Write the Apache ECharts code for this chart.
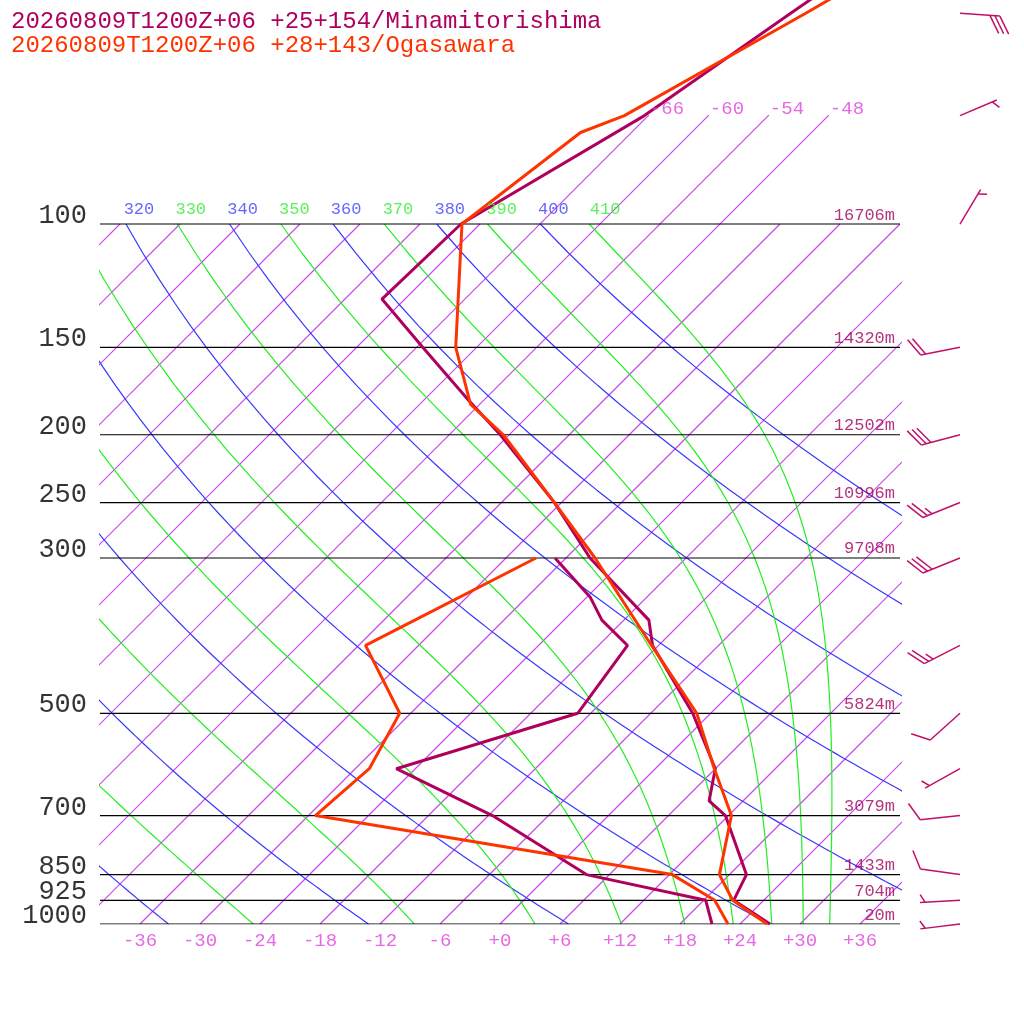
<!DOCTYPE html>
<html><head><meta charset="utf-8">
<script src="https://cdn.jsdelivr.net/npm/echarts@6/dist/echarts.min.js"></script>
<style>html,body{margin:0;padding:0;background:#fff}#c{width:1024px;height:1024px}</style>
</head><body><div id="c"></div>
<script>
// ---- data ----
const titleA = '20260809T1200Z+06 +25+154/Minamitorishima';
const titleB = '20260809T1200Z+06 +28+143/Ogasawara';
const isobarP = [100,150,200,250,300,500,700,850,925,1000];
const heights = ['16706m','14320m','12502m','10996m','9708m','5824m','3079m','1433m','704m','20m'];
const tempTicks = [-36,-30,-24,-18,-12,-6,0,6,12,18,24,30,36];
const topIsotherms = [-66,-60,-54,-48];
const dryThetas = [240,260,280,300,320,340,360,380,400];
const moistThetas = [250,270,290,310,330,350,370,390,410];
// Minamitorishima
const mtP  = [1000,925,850,700,667,600,500,400,368,300,250,200,178,150,128,100,70,50,40];
const mtT  = [27.0,21.0,19.7,11.7,8.6,6.0,-1.8,-12.6,-15.5,-27.6,-36.7,-48.9,-55.7,-65.4,-74.3,-73.9,-66.4,-62.0,-59.0];
const mtDP = [1000,925,850,700,600,500,400,368,341,300];
const mtTd = [21.2,18.2,3.7,-11.6,-25.9,-13.3,-15.1,-20.2,-23.7,-31.1];
// Ogasawara
const ogP  = [1000,925,850,700,600,500,400,300,250,200,181,150,100,74,70,50,40];
const ogT  = [26.7,20.9,17.0,12.3,5.9,-1.4,-12.7,-27.1,-36.7,-48.6,-54.9,-62.1,-73.8,-71.1,-68.4,-60.5,-55.6];
const ogDP = [1000,925,850,700,600,500,400,300];
const ogTd = [22.8,19.1,12.3,-29.3,-28.6,-31.1,-41.3,-33.0];
// winds (Minamitorishima)
const windP   = [50,70,100,150,200,250,300,400,500,600,700,850,925,1000];
const windDir = [94,67,31,259,255,248,248,243,228,241,264,278,267,263];
const windSpd = [30,5,5,20,30,25,30,25,10,5,10,10,5,5];

// ---- helpers ----
const SK = 30.4;
const L = p => Math.log(1000/p);
const X = (T,p) => T + SK*L(p);
const FONT = 'Liberation Mono';
const series = [];
function line(data,color,width,extra){ series.push(Object.assign({type:'line',data,symbol:'none',silent:true,animation:false,
  color:color,itemStyle:{color},lineStyle:{color,width,opacity:1},z:2},extra||{})); }

// isotherms
for (let T=-108; T<=36; T+=6) {
  const top = topIsotherms.includes(T) ? 69.9 : 100;
  line([[X(T,1000),L(1000)],[X(T,(1000+top)/2),L((1000+top)/2)],[X(T,top),L(top)]],'#c848e8',1.2);
}
// dry adiabats
const ptsP=[]; for(let p=1000;p>=100;p-=10) ptsP.push(p);
dryThetas.forEach(th=>{
  line(ptsP.map(p=>[X(th*Math.pow(p/1000,0.2857)-273.15,p),L(p)]),'#3838ff',1.2);
});
// moist adiabats
function es(Tc){return 6.112*Math.exp(17.67*Tc/(Tc+243.5));}
function dTdp(T,p){const e=es(T-273.15);const rs=0.622*e/Math.max(p-e,1);
  return (287.04*T+2.501e6*rs)/(1005.7+2.501e6*2.501e6*rs*0.622/(287.04*T*T))/p;}
moistThetas.forEach(th=>{
  let p=40, T=th*Math.pow(p/1000,0.2857); const pts=[];
  const dp=1;
  while(p<=1000){
    if (p>=100 && p%10===0) pts.push([X(T-273.15,p),L(p)]);
    const k1=dTdp(T,p), k2=dTdp(T+k1*dp,p+dp);
    T+=0.5*(k1+k2)*dp; p+=dp;
  }
  line(pts,'#22ee22',1.2);
});
// isobars
isobarP.forEach(p=>line([[-40,L(p)],[40,L(p)]],'#000',1.2,{z:3}));
// soundings
function snd(P,T,color){line(P.map((p,i)=>[X(T[i],p),L(p)]),color,3,{z:5});}
snd(mtP,mtT,'#b0005e'); snd(mtDP,mtTd,'#b0005e');
snd(ogP,ogT,'#ff3300'); snd(ogDP,ogTd,'#ff3300');

// labels
function labels(data,style){series.push({type:'scatter',symbolSize:0,silent:true,animation:false,z:10,
  data,label:Object.assign({show:true,fontFamily:FONT,textBorderWidth:0,formatter:p=>p.data.t},style)});}
labels(isobarP.map(p=>({value:[-40,L(p)],t:String(p)})),{position:'left',align:'right',offset:[-8,-8],fontSize:27,color:'#000'});
labels(isobarP.map((p,i)=>({value:[39.5,L(p)],t:heights[i]})),{position:'left',align:'right',offset:[5,-9],fontSize:17,color:'#a0005e'});
labels(tempTicks.map(t=>({value:[t,0],t:(t>=0?'+':'')+t})),{position:'bottom',offset:[0,2],fontSize:19,color:'#dd44dd'});
labels(topIsotherms.map(t=>({value:[X(t,69.9),L(69.9)],t:String(t)})),{position:'right',offset:[-4,-6],fontSize:19,color:'#dd44dd'});
const thLab=[];
dryThetas.forEach(th=>{const x=X(th*Math.pow(0.1,0.2857)-273.15,100); if(x>-40) thLab.push({value:[x,L(100)],t:String(th),c:'#4040ff'});});
moistThetas.forEach(th=>{const x=X(th*Math.pow(0.1,0.2857)-273.15,100); if(x>-40) thLab.push({value:[x,L(100)],t:String(th),c:'#33ee33'});});
thLab.forEach(d=>labels([d],{position:'top',offset:[13,-1],fontSize:17,color:d.c}));

// wind barbs
series.push({type:'custom',clip:false,silent:true,animation:false,z:8,
  data:windP.map((p,i)=>[46,L(p),windDir[i],windSpd[i]]),
  renderItem:(params,api)=>{
    const a=api.coord([api.value(0),api.value(1)]);
    const d=api.value(2)*Math.PI/180, s=api.value(3);
    const u=[Math.sin(d),-Math.cos(d)], n=[-u[1],u[0]];
    const tip=[a[0]+40*u[0],a[1]+40*u[1]];
    const ch=[{type:'line',shape:{x1:a[0],y1:a[1],x2:tip[0],y2:tip[1]},style:{stroke:'#c0106a',lineWidth:1.5}}];
    let full=Math.floor(s/10), half=(s%10)>=5?1:0, k=0;
    if(full===0) k=1;
    for(let j=0;j<full+half;j++,k++){
      const len=j<full?20:9;
      const b=[tip[0]-5*k*u[0],tip[1]-5*k*u[1]];
      ch.push({type:'line',shape:{x1:b[0],y1:b[1],x2:b[0]+len*(0.5*u[0]+0.87*n[0]),y2:b[1]+len*(0.5*u[1]+0.87*n[1])},style:{stroke:'#c0106a',lineWidth:1.5}});
    }
    return {type:'group',children:ch};
  }});

const chart=echarts.init(document.getElementById('c'));
chart.setOption({
  animation:false,
  title:[{text:titleA,left:6,top:5,textStyle:{fontFamily:FONT,fontSize:24,fontWeight:'normal',color:'#b0005e'}},
         {text:titleB,left:6,top:29,textStyle:{fontFamily:FONT,fontSize:24,fontWeight:'normal',color:'#ff3300'}}],
  grid:{left:100,right:124,top:0,bottom:100},
  xAxis:{type:'value',min:-40,max:40,show:false},
  yAxis:{type:'value',min:0,max:924/304,show:false},
  series
});
</script></body></html>
